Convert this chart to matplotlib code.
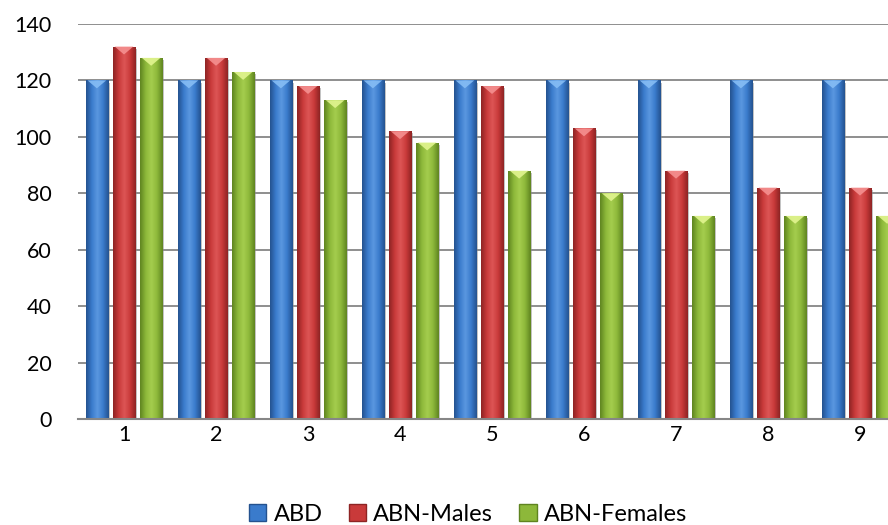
import numpy as np
import matplotlib.pyplot as plt
from matplotlib.colors import LinearSegmentedColormap
from matplotlib.patches import Polygon, Patch
import matplotlib.patheffects as pe

plt.rcParams['font.family'] = ['Lato', 'DejaVu Sans']

categories = ['1', '2', '3', '4', '5', '6', '7', '8', '9']
abd = [120, 120, 120, 120, 120, 120, 120, 120, 120]
abn_males = [132, 128, 118, 102, 118, 103, 88, 82, 82]
abn_females = [128, 123, 113, 98, 88, 80, 72, 72, 72]

series = [
    ('ABD', abd, ('#24528f', '#3a7bcc', '#5b98e0', '#86bdf5')),
    ('ABN-Males', abn_males, ('#8e2424', '#c93a3a', '#dd5656', '#f59090')),
    ('ABN-Females', abn_females, ('#5f8420', '#8db83a', '#a5cd4e', '#e2f590')),
]
offsets = [-0.295, 0.0, 0.295]
width = 0.24

fig = plt.figure(figsize=(8.88, 5.25), dpi=100)
ax = fig.add_axes([78 / 888, 106 / 525, 828 / 888, 395 / 525])
x = np.arange(len(categories))

for (name, vals, (dark, base, light, top)), off in zip(series, offsets):
    cmap = LinearSegmentedColormap.from_list(name, [dark, base, light, base, dark])
    grad = np.linspace(0, 1, 64).reshape(1, -1)
    bars = ax.bar(x + off, vals, width, color=base, zorder=2,
                  path_effects=[pe.SimplePatchShadow(offset=(1.5, -1.5), shadow_rgbFace='#888888', alpha=0.5),
                                pe.Normal()])
    for b, v in zip(bars, vals):
        x0 = b.get_x()
        im = ax.imshow(grad, cmap=cmap, aspect='auto', extent=(x0, x0 + width, 0, v),
                       zorder=3, interpolation='bicubic')
        im.set_clip_path(b)
        # bevel at the top of each bar
        tri = Polygon([[x0 + width * 0.08, v], [x0 + width * 0.92, v], [x0 + width * 0.5, v - 2.8]],
                      closed=True, facecolor=top, edgecolor='none', zorder=4, alpha=0.9)
        ax.add_patch(tri)

ax.set_xlim(-0.5, len(categories) - 0.5)
ax.set_ylim(0, 140)
ax.set_yticks(range(0, 141, 20))
ax.set_xticks(x)
ax.set_xticklabels(categories)
ax.yaxis.grid(True, color='#868686', linewidth=1.3, zorder=0)
ax.set_axisbelow(True)
for s in ['top', 'right', 'left']:
    ax.spines[s].set_visible(False)
ax.spines['bottom'].set_color('#868686')
ax.spines['bottom'].set_linewidth(1.5)
ax.spines['bottom'].set_zorder(5)
ax.tick_params(axis='both', length=0, labelsize=15.5, colors='black')
ax.tick_params(axis='y', pad=19)
ax.tick_params(axis='x', pad=4)

handles = [Patch(facecolor=c[1], edgecolor=c[0], label=n) for n, _, c in series]
fig.legend(handles=handles, loc='lower center', bbox_to_anchor=(0.527, -0.04), ncol=3, frameon=False,
           fontsize=17, handlelength=0.75, handleheight=0.75, handletextpad=0.3, columnspacing=1.1)

fig.savefig('out.png', dpi=100)
